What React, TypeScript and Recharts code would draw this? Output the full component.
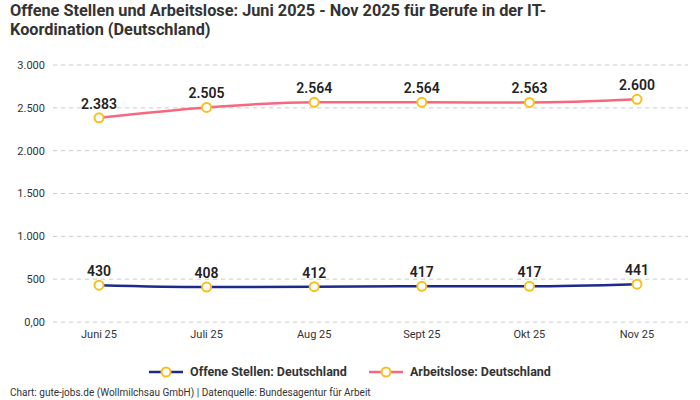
import React from 'react';
import { LineChart, Line, XAxis, YAxis, CartesianGrid, LabelList } from 'recharts';

const months = ['Juni 25', 'Juli 25', 'Aug 25', 'Sept 25', 'Okt 25', 'Nov 25'];
const offeneStellen = [430, 408, 412, 417, 417, 441];
const arbeitslose = [2383, 2505, 2564, 2564, 2563, 2600];
const yTicks = [0, 500, 1000, 1500, 2000, 2500, 3000];

const data = months.map((m, i) => ({
  month: m,
  offen: offeneStellen[i],
  arbeitslos: arbeitslose[i],
}));

const NAVY = '#1b2a8c';
const PINK = '#f7687f';
const DOT = '#f8c01c';
const FONT = 'Roboto, "Noto Sans", sans-serif';

const fmt = (v: number) => v.toLocaleString('de-DE');
const fmtAxis = (v: number) => (v === 0 ? '0,00' : v.toLocaleString('de-DE'));

const dot = { r: 4.5, fill: '#fff', stroke: DOT, strokeWidth: 2 };
const labelStyle = { fontSize: 14, fontWeight: 600, fill: '#222', fontFamily: FONT };

const LegendItem: React.FC<{ color: string; label: string }> = ({ color, label }) => (
  <div style={{ display: 'flex', alignItems: 'center', gap: 7 }}>
    <svg width={34} height={12}>
      <line x1={0} y1={6} x2={34} y2={6} stroke={color} strokeWidth={2.5} />
      <circle cx={17} cy={6} r={4.5} fill="#fff" stroke={DOT} strokeWidth={2} />
    </svg>
    <span style={{ fontWeight: 700, fontSize: 12.5, color: '#333' }}>{label}</span>
  </div>
);

export default function App() {
  return (
    <div style={{ position: 'absolute', left: 0, top: 0, width: 700, height: 400, background: '#fff', fontFamily: FONT }}>
      <div style={{ position: 'absolute', left: 10, top: 1, fontSize: 16.3, fontWeight: 700, color: '#333', lineHeight: '19px' }}>
        Offene Stellen und Arbeitslose: Juni 2025 - Nov 2025 für Berufe in der IT-
        <br />
        Koordination (Deutschland)
      </div>
      <div style={{ position: 'absolute', left: 0, top: 0 }}>
        <LineChart width={700} height={400} data={data} margin={{ top: 65, right: 12, left: 8, bottom: 48 }}>
          <CartesianGrid vertical={false} stroke="#cccccc" strokeDasharray="4 4" />
          <XAxis
            dataKey="month"
            axisLine={false}
            tickLine={false}
            height={30}
            padding={{ left: 46, right: 51 }}
            tick={{ fontSize: 11, fill: '#333', fontFamily: FONT }}
          />
          <YAxis
            width={45}
            domain={[0, 3000]}
            ticks={yTicks}
            axisLine={false}
            tickLine={false}
            tickFormatter={fmtAxis}
            tick={{ fontSize: 11, fill: '#333', fontFamily: FONT }}
          />
          <Line
            type="monotone"
            dataKey="offen"
            stroke={NAVY}
            strokeWidth={2.5}
            dot={dot}
            activeDot={false}
            isAnimationActive={false}
          >
            <LabelList dataKey="offen" position="top" offset={9} formatter={(v: any) => fmt(Number(v))} style={labelStyle} />
          </Line>
          <Line
            type="monotone"
            dataKey="arbeitslos"
            stroke={PINK}
            strokeWidth={2.5}
            dot={dot}
            activeDot={false}
            isAnimationActive={false}
          >
            <LabelList dataKey="arbeitslos" position="top" offset={9} formatter={(v: any) => fmt(Number(v))} style={labelStyle} />
          </Line>
        </LineChart>
      </div>
      <div style={{ position: 'absolute', left: 0, width: 700, top: 364, display: 'flex', justifyContent: 'center', gap: 22 }}>
        <LegendItem color={NAVY} label="Offene Stellen: Deutschland" />
        <LegendItem color={PINK} label="Arbeitslose: Deutschland" />
      </div>
      <div style={{ position: 'absolute', left: 10, top: 387, fontSize: 10, color: '#333' }}>
        Chart: gute-jobs.de (Wollmilchsau GmbH) | Datenquelle: Bundesagentur für Arbeit
      </div>
    </div>
  );
}
